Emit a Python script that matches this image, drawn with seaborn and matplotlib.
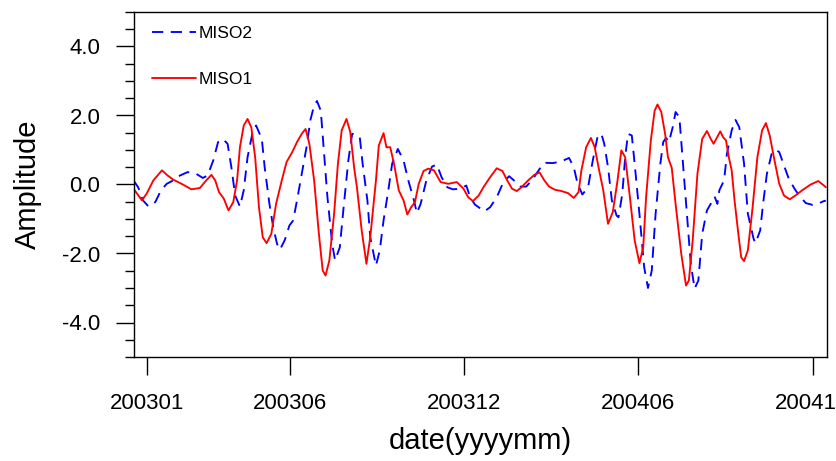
import numpy as np
import pandas as pd
import matplotlib
matplotlib.use("Agg")
import matplotlib.pyplot as plt
from matplotlib.ticker import MultipleLocator, FormatStrFormatter
import seaborn as sns

# ---- data (days since 2003-01-01, amplitude) ----
miso1_days = [-14, -5, 0, 7, 16, 22, 28, 38, 47, 56, 61, 68, 72, 76, 81, 86, 91, 95, 98, 102,
              106, 110, 114, 118, 122, 126, 131, 136, 142, 147, 153, 158, 163, 167, 171, 176, 181, 185, 188, 192,
              197, 201, 205, 210, 214, 218, 221, 226, 231, 235, 241, 244, 249, 252, 256, 260, 265, 270, 274, 278,
              282, 286, 291, 296, 302, 309, 317, 326, 333, 338, 343, 349, 354, 361, 368, 374, 379, 384, 389, 394,
              401, 408, 413, 418, 423, 429, 436, 443, 449, 454, 457, 462, 467, 471, 475, 480, 485, 490, 495, 499,
              503, 508, 513, 518, 522, 525, 530, 534, 537, 541, 545, 548, 552, 556, 562, 567, 570, 574, 579, 584,
              589, 593, 596, 603, 606, 609, 612, 615, 618, 622, 625, 628, 632, 637, 642, 647, 651, 655, 660, 665,
              670, 676, 682, 689, 698, 706, 712, 714]
miso1_vals = [-0.12, -0.46, -0.26, 0.12, 0.41, 0.26, 0.14, 0.00, -0.14, -0.10, 0.07, 0.28, 0.12, -0.22, -0.41, -0.75, -0.51, 0.12, 1.08, 1.71,
              1.90, 1.65, 0.79, -0.66, -1.53, -1.70, -1.43, -0.56, 0.12, 0.65, 0.94, 1.23, 1.47, 1.61, 1.18, 0.12, -1.43, -2.49, -2.64, -2.20,
              -0.85, 0.60, 1.57, 1.90, 1.52, 0.50, -0.08, -1.33, -2.30, -1.53, 0.12, 1.13, 1.49, 1.08, 1.08, 0.60, -0.17, -0.46, -0.87, -0.66,
              -0.51, 0.02, 0.39, 0.46, 0.41, 0.07, 0.02, 0.07, -0.12, -0.37, -0.48, -0.32, -0.08, 0.21, 0.47, 0.39, 0.12, -0.12, -0.19, -0.08,
              0.12, 0.29, 0.35, 0.12, -0.06, -0.15, -0.19, -0.25, -0.39, -0.22, 0.41, 1.08, 1.35, 1.08, 0.50, -0.17, -1.14, -0.80, 0.12, 0.99,
              0.79, -0.37, -1.62, -2.28, -1.82, -0.37, 1.28, 2.14, 2.32, 2.10, 1.47, 0.79, 0.48, -0.56, -2.01, -2.93, -2.78, -1.62, 0.31, 1.32,
              1.55, 1.32, 1.18, 1.54, 1.37, 1.28, 0.79, 0.41, -0.46, -1.43, -2.11, -2.22, -1.91, -0.66, 0.79, 1.57, 1.78, 1.42, 0.70, 0.02,
              -0.32, -0.43, -0.32, -0.17, 0.00, 0.10, -0.03, -0.08]

miso2_days = [-14, -9, -4, 2, 9, 15, 21, 28, 35, 43, 52, 59, 64, 70, 75, 80, 85, 89, 93, 98,
              102, 106, 111, 115, 121, 124, 129, 133, 137, 140, 145, 150, 154, 158, 163, 168, 172, 176, 179, 183,
              186, 190, 195, 198, 203, 207, 212, 216, 220, 224, 227, 232, 235, 241, 245, 249, 254, 258, 264, 270,
              275, 281, 284, 288, 294, 300, 305, 310, 316, 322, 330, 336, 340, 345, 355, 361, 368, 375, 381, 386,
              393, 399, 406, 413, 418, 427, 436, 444, 449, 453, 458, 464, 469, 474, 478, 481, 485, 489, 494, 496,
              500, 503, 506, 510, 513, 518, 523, 527, 531, 535, 540, 543, 546, 549, 553, 556, 560, 563, 568, 572,
              576, 580, 584, 589, 593, 597, 600, 602, 607, 610, 615, 619, 623, 628, 632, 638, 640, 645, 648, 652,
              657, 661, 665, 670, 675, 681, 686, 693, 700, 707, 712, 714]
miso2_vals = [0.12, -0.08, -0.46, -0.64, -0.51, -0.17, 0.02, 0.12, 0.26, 0.36, 0.31, 0.19, 0.26, 0.70, 1.23, 1.32, 1.18, 0.50, -0.32, -0.64,
              -0.17, 0.79, 1.47, 1.71, 1.32, 0.50, -0.56, -1.24, -1.72, -1.89, -1.62, -1.19, -1.04, -0.46, 0.31, 1.08, 1.86, 2.29, 2.42, 2.14,
              1.08, -0.37, -1.72, -2.20, -1.82, -0.66, 0.70, 1.47, 1.45, 1.37, 0.60, -0.46, -1.53, -2.35, -1.91, -1.04, -0.17, 0.60, 1.03, 0.70,
              0.12, -0.46, -0.83, -0.56, 0.12, 0.52, 0.58, 0.21, -0.08, -0.14, -0.12, -0.03, -0.37, -0.58, -0.78, -0.66, -0.37, 0.07, 0.24, 0.12,
              -0.06, -0.06, 0.16, 0.45, 0.63, 0.62, 0.67, 0.77, 0.50, 0.02, -0.29, -0.08, 0.70, 1.39, 1.47, 1.18, 0.50, -0.46, -0.90, -0.95,
              -0.27, 0.79, 1.47, 1.42, 0.60, -0.85, -2.40, -3.00, -2.49, -0.85, 0.60, 1.23, 1.35, 1.23, 1.66, 2.10, 1.95, 0.89, -0.85, -2.30,
              -3.02, -2.78, -1.43, -0.75, -0.56, -0.35, -0.56, -0.17, 0.12, 0.89, 1.57, 1.87, 1.66, 0.60, -0.85, -1.57, -1.70, -1.33, -0.56, 0.31,
              0.89, 1.01, 0.94, 0.55, 0.17, -0.12, -0.32, -0.54, -0.59, -0.54, -0.48, -0.47]

xtick_labels = ["200301", "200306", "200312", "200406", "200412"]
series_names = ["MISO2", "MISO1"]

# ---- style ----
sns.set_theme(style="white")
plt.rcParams["font.family"] = ["Liberation Sans", "DejaVu Sans"]
plt.rcParams["axes.unicode_minus"] = False
for k in ["text.color", "axes.labelcolor", "xtick.color", "ytick.color", "axes.edgecolor"]:
    plt.rcParams[k] = "black"

base = pd.Timestamp("2003-01-01")
df1 = pd.DataFrame({"date": base + pd.to_timedelta(miso1_days, unit="D"), "amp": miso1_vals})
df2 = pd.DataFrame({"date": base + pd.to_timedelta(miso2_days, unit="D"), "amp": miso2_vals})

fig = plt.figure(figsize=(8.36, 4.61), dpi=100)
ax = fig.add_axes([133.6 / 836, 104 / 461, 693.2 / 836, 345 / 461])

sns.lineplot(data=df2, x="date", y="amp", ax=ax, color="#0000ff", lw=1.35,
             linestyle=(0, (6, 4)), label=series_names[0])
sns.lineplot(data=df1, x="date", y="amp", ax=ax, color="#ff0000", lw=1.35,
             label=series_names[1])

ax.set_xlim(base - pd.Timedelta(days=13.8), base + pd.Timedelta(days=715))
ax.set_ylim(-5, 5)

ticks = pd.to_datetime(xtick_labels, format="%Y%m")
ax.set_xticks(ticks)
ax.set_xticklabels(xtick_labels)
ax.yaxis.set_major_locator(MultipleLocator(2))
ax.yaxis.set_minor_locator(MultipleLocator(0.5))
ax.yaxis.set_major_formatter(FormatStrFormatter("%.1f"))

ax.tick_params(axis="both", which="major", direction="out", length=13, width=1,
               labelsize=16, colors="black", bottom=True, left=True, top=False, right=False)
ax.tick_params(axis="x", pad=13)
ax.tick_params(axis="y", pad=11)
ax.tick_params(axis="y", which="minor", direction="out", length=6.5, width=1, left=True, colors="black")

for s in ax.spines.values():
    s.set_color("black")
    s.set_linewidth(1.0)

ax.set_xlabel("date(yyyymm)", fontsize=21, labelpad=9, color="black")
ax.set_ylabel("Amplitude", fontsize=21, labelpad=14.5, color="black")

h, l = ax.get_legend_handles_labels()
leg = ax.legend(h, l, loc="upper left", bbox_to_anchor=(0.017, 0.979), borderaxespad=0,
                frameon=False, fontsize=12.5, handlelength=2.5, handletextpad=0.15,
                labelspacing=1.75)
for t in leg.get_texts():
    t.set_color("black")

fig.savefig("out.png", dpi=100)
